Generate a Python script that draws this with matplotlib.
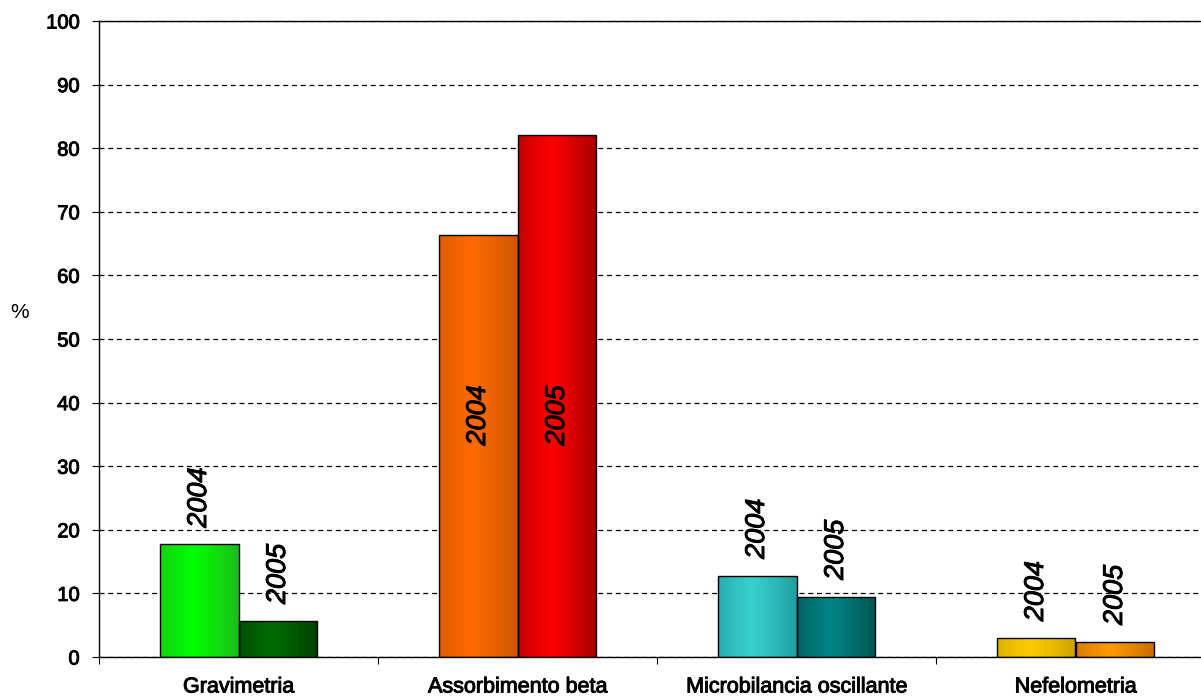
import numpy as np
import matplotlib.pyplot as plt
import matplotlib.patheffects as pe
from matplotlib.colors import to_rgb

# dati
categorie = ["Gravimetria", "Assorbimento beta", "Microbilancia oscillante", "Nefelometria"]
anni = ["2004", "2005"]
valori_2004 = [17.7, 66.4, 12.8, 3.0]
valori_2005 = [5.7, 82.1, 9.5, 2.4]

# colori (bordo, centro) per ogni barra
colori_2004 = [("#1fb81f", "#00ff00"), ("#c85400", "#ff6a00"), ("#1f9c9c", "#38d0d0"), ("#c9a000", "#ffcc00")]
colori_2005 = [("#003f00", "#006c00"), ("#a00000", "#ff0000"), ("#005050", "#008585"), ("#c46a00", "#ff9a00")]

plt.rcParams['font.family'] = ['Liberation Sans', 'DejaVu Sans']
spesso = [pe.withStroke(linewidth=0.7, foreground='black')]

fig = plt.figure(figsize=(12.01, 6.98), dpi=100)
W, H = 1201, 698
ax = fig.add_axes([99 / W, 41 / H, 1116 / W, 636 / H])

x = np.arange(len(categorie))
w = 0.283


def barra_sfumata(ax, bar, c_bordo, c_centro):
    x0, y0 = bar.get_x(), bar.get_y()
    bw, bh = bar.get_width(), bar.get_height()
    t = np.linspace(0, 1, 200)
    prof = np.clip(1 - np.abs(t - 0.42) / 0.58, 0, 1) ** 0.8
    a = np.array(to_rgb(c_bordo))
    b = np.array(to_rgb(c_centro))
    img = a[None, :] + (b - a)[None, :] * prof[:, None]
    im = ax.imshow(img[None, :, :], extent=[x0, x0 + bw, y0, y0 + bh],
                   aspect='auto', zorder=2, interpolation='bilinear')
    im.set_clip_path(bar)


for vals, cols, off, anno in [(valori_2004, colori_2004, -w / 2, anni[0]),
                              (valori_2005, colori_2005, w / 2, anni[1])]:
    bars = ax.bar(x + off, vals, w, facecolor='none', edgecolor='black', linewidth=1.0, zorder=3)
    for bar, (cb, cc), v in zip(bars, cols, vals):
        barra_sfumata(ax, bar, cb, cc)
        cx = bar.get_x() + bar.get_width() / 2
        if v > 50:
            t = ax.text(cx, 38, anno, rotation=90, ha='center', va='center',
                        fontsize=19.5, style='italic', zorder=4)
        else:
            t = ax.annotate(anno, (cx, v), xytext=(0, 12), textcoords='offset points',
                            rotation=90, ha='center', va='bottom', fontsize=19.5,
                            style='italic', zorder=4)
        t.set_path_effects(spesso)

ax.set_ylim(0, 100)
ax.set_xlim(-0.5, 3.5)
ax.set_yticks(np.arange(0, 101, 10))
ax.yaxis.grid(True, linestyle=(0, (4, 3)), color='black', linewidth=0.9)
ax.set_axisbelow(True)

ax.set_xticks(np.arange(-0.5, 3.6, 1))
ax.set_xticklabels([])
ax.set_xticks(x, minor=True)
ax.set_xticklabels(categorie, minor=True, fontsize=15.5)
ax.tick_params(axis='x', which='minor', length=0, pad=14)
ax.tick_params(axis='x', which='major', length=5, direction='out')
ax.tick_params(axis='y', length=5, pad=9, labelsize=14.5)
for lab in ax.get_yticklabels() + ax.get_xticklabels(minor=True):
    lab.set_path_effects(spesso)

ax.spines['right'].set_visible(False)
for s in ['left', 'bottom', 'top']:
    ax.spines[s].set_linewidth(1.0)

fig.text(20 / W, 1 - 313 / H, "%", fontsize=15, ha='center', va='center')

fig.savefig("out.png", dpi=100)
